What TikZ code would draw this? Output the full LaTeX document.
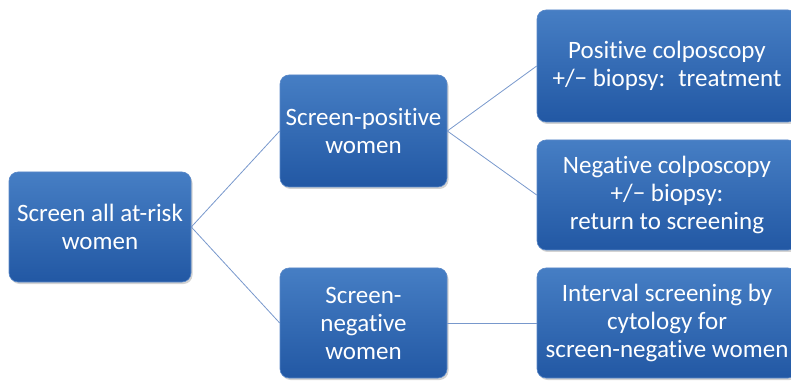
\documentclass[tikz,border=0pt]{standalone}
\usepackage{fontspec}
\setmainfont[RawFeature=-liga]{Carlito}
\usetikzlibrary{shadows}
\definecolor{boxtop}{RGB}{70,126,196}
\definecolor{boxbot}{RGB}{34,88,164}
\definecolor{boxedge}{RGB}{90,136,200}
\definecolor{linkblue}{RGB}{120,152,204}
\tikzset{
	stagebox/.style={draw=boxedge, line width=0.6pt, rounded corners=9pt,
		top color=boxtop, bottom color=boxbot, text=white, align=center,
		font=\fontsize{25}{28}\selectfont, inner sep=2pt,
		drop shadow={shadow xshift=1.5pt, shadow yshift=-2pt, opacity=0.35}},
	link/.style={draw=linkblue, line width=0.8pt}
}
\begin{document}
\begin{tikzpicture}[x=1pt, y=1pt]
			%%%%% START %%%%%
			\useasboundingbox (0, 0) rectangle (791, 380);
			
			\node[stagebox, minimum width=182, minimum height=110] (root) at (100, 153) {Screen all at-risk\\women};
			
			\node[stagebox, minimum width=167, minimum height=112] (pos) at (363.5, 249) {Screen-positive\\women};
			\node[stagebox, minimum width=167, minimum height=110] (neg) at (363.5, 57) {Screen-\\negative\\women};
			
			\node[stagebox, minimum width=260, minimum height=112] (poscol) at (667, 314) {Positive colposcopy\\+/− biopsy:~ treatment};
			\node[stagebox, minimum width=260, minimum height=110] (negcol) at (667, 185) {Negative colposcopy\\+/− biopsy:\\return to screening};
			\node[stagebox, minimum width=260, minimum height=110] (interval) at (667, 57) {Interval screening by\\cytology for\\screen-negative women};
			
			\draw[link] (root.east) -- (pos.west);
			\draw[link] (root.east) -- (neg.west);
			\draw[link] (pos.east) -- (poscol.west);
			\draw[link] (pos.east) -- (negcol.west);
			\draw[link] (neg.east) -- (interval.west);
			%%%%% END %%%%%
\end{tikzpicture}
\end{document}
